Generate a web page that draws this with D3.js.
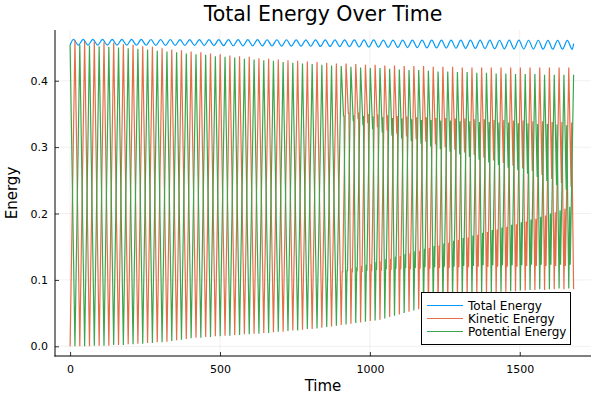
<!DOCTYPE html>
<html>
<head>
<meta charset="utf-8">
<script src="https://cdn.jsdelivr.net/npm/d3@7"></script>
<style>
  html, body { margin: 0; padding: 0; background: #fff; }
  svg { display: block; font-family: "DejaVu Sans", sans-serif; }
</style>
</head>
<body>
<svg id="chart" width="600" height="400"></svg>
<script>
// ---------------- data ----------------
const title = "Total Energy Over Time";
const xLabel = "Time";
const yLabel = "Energy";
const seriesNames = ["Total Energy", "Kinetic Energy", "Potential Energy"];
const seriesColors = ["#009AFA", "#E36F47", "#3EA44E"];
const xTicks = [0, 500, 1000, 1500];
const yTicks = [0.0, 0.1, 0.2, 0.3, 0.4];

// length of one exchange cycle (time units), read from peak spacing
const period = 32.3;
const nCycles = 52;
// first cycle that shows the secondary wiggle
const wiggleStart = 28;

// kinetic energy: peaks (mid-cycle) and troughs (cycle boundaries)
const keMax = [0.461,0.460,0.459,0.458,0.457,0.455,0.454,0.452,0.451,0.449,
  0.447,0.446,0.444,0.443,0.441,0.440,0.438,0.437,0.436,0.434,
  0.433,0.432,0.431,0.430,0.429,0.428,0.427,0.426,0.426,0.425,
  0.424,0.424,0.423,0.423,0.422,0.422,0.422,0.421,0.421,0.421,
  0.420,0.420,0.420,0.420,0.420,0.420,0.420,0.420,0.420,0.420,
  0.420,0.420];
const keMin = [0.000,0.000,0.000,0.001,0.001,0.002,0.003,0.004,0.005,0.006,
  0.007,0.009,0.011,0.013,0.014,0.015,0.016,0.017,0.018,0.019,
  0.020,0.021,0.022,0.024,0.025,0.026,0.028,0.030,0.032,0.034,
  0.036,0.038,0.040,0.044,0.048,0.052,0.056,0.060,0.064,0.068,
  0.072,0.075,0.078,0.080,0.081,0.082,0.083,0.084,0.085,0.085,
  0.086,0.086,0.086];
// kinetic energy secondary wiggle (cycles 28..51)
const keUpLo = [0.350,0.342,0.336,0.330,0.325,0.320,0.316,0.312,0.308,0.304,0.300,0.296,0.292,0.288,0.284,0.280,0.276,0.272,0.268,0.264,0.258,0.252,0.246,0.240];
const keUpHi = [0.352,0.352,0.350,0.349,0.348,0.347,0.346,0.345,0.345,0.344,0.344,0.343,0.343,0.342,0.342,0.341,0.341,0.340,0.340,0.339,0.339,0.338,0.338,0.337];
const keLoHi = [0.113,0.117,0.121,0.124,0.128,0.132,0.136,0.140,0.144,0.148,0.152,0.156,0.160,0.164,0.168,0.172,0.176,0.180,0.184,0.188,0.192,0.197,0.202,0.207];
const keLoLo = [0.111,0.111,0.112,0.113,0.114,0.115,0.116,0.116,0.117,0.117,0.118,0.118,0.119,0.119,0.120,0.120,0.120,0.120,0.120,0.121,0.121,0.121,0.121,0.121];

// potential energy: peaks (cycle boundaries) and troughs (mid-cycle)
const peMax = [0.454,0.454,0.453,0.452,0.451,0.450,0.449,0.448,0.447,0.445,
  0.444,0.443,0.441,0.440,0.439,0.437,0.436,0.435,0.433,0.432,
  0.431,0.430,0.428,0.427,0.426,0.425,0.424,0.423,0.422,0.421,
  0.420,0.419,0.419,0.418,0.417,0.416,0.416,0.415,0.414,0.414,
  0.413,0.413,0.412,0.412,0.411,0.411,0.410,0.410,0.410,0.409,
  0.409,0.409,0.409];
const peMin = [0.000,0.000,0.001,0.001,0.002,0.002,0.003,0.004,0.005,0.006,
  0.008,0.010,0.012,0.013,0.014,0.015,0.016,0.017,0.018,0.019,
  0.020,0.022,0.023,0.024,0.026,0.027,0.029,0.031,0.033,0.035,
  0.037,0.039,0.042,0.046,0.050,0.054,0.058,0.062,0.066,0.070,
  0.073,0.076,0.078,0.080,0.082,0.083,0.084,0.085,0.086,0.086,
  0.087,0.087];
const peUpLo = [0.346,0.339,0.333,0.327,0.322,0.317,0.313,0.309,0.305,0.301,0.297,0.293,0.289,0.285,0.281,0.277,0.273,0.269,0.265,0.260,0.255,0.249,0.243,0.236];
const peUpHi = [0.348,0.348,0.347,0.346,0.345,0.344,0.343,0.342,0.341,0.341,0.340,0.340,0.339,0.339,0.338,0.338,0.337,0.337,0.336,0.336,0.335,0.335,0.334,0.333];
const peLoHi = [0.115,0.119,0.123,0.127,0.131,0.135,0.139,0.143,0.147,0.151,0.155,0.159,0.163,0.167,0.171,0.175,0.179,0.183,0.187,0.191,0.195,0.200,0.205,0.210];
const peLoLo = [0.113,0.113,0.114,0.115,0.116,0.117,0.118,0.118,0.119,0.119,0.120,0.120,0.121,0.121,0.122,0.122,0.122,0.122,0.122,0.123,0.123,0.123,0.123,0.123];

// total energy: small ripple, one top and one dip per cycle
const totalStart = 0.4537;
const totalTop = [0.4624,0.4624,0.4623,0.4623,0.4623,0.4622,0.4622,0.4622,0.4621,0.4621,
  0.4621,0.4620,0.4620,0.4620,0.4619,0.4619,0.4619,0.4618,0.4618,0.4618,
  0.4617,0.4617,0.4617,0.4616,0.4616,0.4616,0.4615,0.4615,0.4615,0.4614,
  0.4614,0.4614,0.4613,0.4613,0.4613,0.4613,0.4612,0.4612,0.4612,0.4612,
  0.4611,0.4611,0.4611,0.4611,0.4610,0.4610,0.4610,0.4610,0.4610,0.4609,
  0.4609,0.4609];
const totalDip = [0.4537,0.4537,0.4536,0.4536,0.4535,0.4535,0.4534,0.4534,0.4533,0.4533,
  0.4532,0.4531,0.4531,0.4530,0.4529,0.4528,0.4527,0.4526,0.4525,0.4524,
  0.4523,0.4522,0.4521,0.4520,0.4519,0.4517,0.4516,0.4514,0.4512,0.4510,
  0.4508,0.4506,0.4504,0.4502,0.4500,0.4498,0.4496,0.4494,0.4492,0.4490,
  0.4488,0.4486,0.4484,0.4482,0.4480,0.4479,0.4478,0.4477,0.4476,0.4475,
  0.4474,0.4473];
const totalEnd = 0.4560;

// ---------------- build series points ----------------
const kePts = [], pePts = [], totPts = [];
for (let k = 0; k < nCycles; k++) {
  const t0 = k * period;
  const w = k - wiggleStart;
  // kinetic
  kePts.push([t0, keMin[k]]);
  if (w >= 0) {
    kePts.push([t0 + 0.10 * period, keLoHi[w]]);
    kePts.push([t0 + 0.15 * period, keLoLo[w]]);
  }
  kePts.push([t0 + 0.5 * period, keMax[k]]);
  if (w >= 0) {
    kePts.push([t0 + 0.74 * period, keUpLo[w]]);
    kePts.push([t0 + 0.79 * period, keUpHi[w]]);
  }
  // potential
  pePts.push([t0, peMax[k]]);
  if (w >= 0) {
    pePts.push([t0 + 0.24 * period, peUpLo[w]]);
    pePts.push([t0 + 0.29 * period, peUpHi[w]]);
  }
  pePts.push([t0 + 0.5 * period, peMin[k]]);
  if (w >= 0) {
    pePts.push([t0 + 0.60 * period, peLoHi[w]]);
    pePts.push([t0 + 0.65 * period, peLoLo[w]]);
  }
  // total
  if (k === 0) totPts.push([0, totalStart]);
  totPts.push([t0 + 0.35 * period, totalTop[k]]);
  totPts.push([t0 + 0.85 * period, totalDip[k]]);
}
kePts.push([nCycles * period, keMin[nCycles]]);
pePts.push([nCycles * period, peMax[nCycles]]);
totPts.push([nCycles * period, totalEnd]);

// ---------------- layout ----------------
const svg = d3.select("#chart");
const plot = { left: 55, right: 591, top: 30, bottom: 356 };
const x = d3.scaleLinear().domain([-50.4, 1737.6]).range([plot.left, plot.right]);
const y = d3.scaleLinear().domain([-0.0146, 0.4764]).range([plot.bottom, plot.top]);

// grid
const grid = svg.append("g");
grid.selectAll("line.gx").data(xTicks).enter().append("line")
  .attr("x1", d => x(d)).attr("x2", d => x(d))
  .attr("y1", plot.top).attr("y2", plot.bottom)
  .attr("stroke", "#000").attr("stroke-opacity", 0.1).attr("stroke-width", 0.6);
grid.selectAll("line.gy").data(yTicks).enter().append("line")
  .attr("y1", d => y(d)).attr("y2", d => y(d))
  .attr("x1", plot.left).attr("x2", plot.right)
  .attr("stroke", "#000").attr("stroke-opacity", 0.1).attr("stroke-width", 0.6);

// series
svg.append("clipPath").attr("id", "clip").append("rect")
  .attr("x", plot.left).attr("y", plot.top)
  .attr("width", plot.right - plot.left).attr("height", plot.bottom - plot.top);
const lines = svg.append("g").attr("clip-path", "url(#clip)");
const lineLin = d3.line().x(d => x(d[0])).y(d => y(d[1]));
const lineSmooth = d3.line().x(d => x(d[0])).y(d => y(d[1])).curve(d3.curveMonotoneX);

lines.append("path").datum(totPts).attr("d", lineSmooth)
  .attr("fill", "none").attr("stroke", seriesColors[0]).attr("stroke-width", 1.2);
lines.append("path").datum(kePts).attr("d", lineLin)
  .attr("fill", "none").attr("stroke", seriesColors[1]).attr("stroke-width", 1.2)
  .attr("stroke-linejoin", "miter");
lines.append("path").datum(pePts).attr("d", lineLin)
  .attr("fill", "none").attr("stroke", seriesColors[2]).attr("stroke-width", 1.2)
  .attr("stroke-linejoin", "miter");

// axes
const xAxis = d3.axisBottom(x).tickValues(xTicks).tickSize(-4).tickPadding(9)
  .tickFormat(d3.format("d"));
const yAxis = d3.axisLeft(y).tickValues(yTicks).tickSize(-4).tickPadding(7)
  .tickFormat(d3.format(".1f"));
const gx = svg.append("g").attr("transform", `translate(0,${plot.bottom})`).call(xAxis);
const gy = svg.append("g").attr("transform", `translate(${plot.left},0)`).call(yAxis);
[gx, gy].forEach(g => {
  g.select(".domain").remove();
  g.selectAll(".tick line").attr("stroke", "#000").attr("stroke-width", 0.8);
  g.selectAll(".tick text").attr("fill", "#000").style("font-size", "11px")
    .style("font-family", "DejaVu Sans, sans-serif");
});
svg.append("line").attr("x1", plot.left).attr("x2", plot.left)
  .attr("y1", plot.top).attr("y2", plot.bottom + 0.5)
  .attr("stroke", "#000").attr("stroke-width", 1);
svg.append("line").attr("x1", plot.left - 0.5).attr("x2", plot.right)
  .attr("y1", plot.bottom).attr("y2", plot.bottom)
  .attr("stroke", "#000").attr("stroke-width", 1);

// titles
svg.append("text").attr("x", (plot.left + plot.right) / 2).attr("y", 21)
  .attr("text-anchor", "middle").style("font-size", "20.5px").attr("fill", "#000")
  .text(title);
svg.append("text").attr("x", (plot.left + plot.right) / 2).attr("y", 391)
  .attr("text-anchor", "middle").style("font-size", "15px").attr("fill", "#000")
  .text(xLabel);
svg.append("text").attr("transform", `translate(17,${(plot.top + plot.bottom) / 2}) rotate(-90)`)
  .attr("text-anchor", "middle").style("font-size", "15px").attr("fill", "#000")
  .text(yLabel);

// legend
const leg = svg.append("g");
leg.append("rect").attr("x", 421.5).attr("y", 292.5).attr("width", 149).attr("height", 52)
  .attr("fill", "#fff").attr("stroke", "#000").attr("stroke-width", 1);
seriesNames.forEach((name, i) => {
  const yy = 305.5 + i * 13;
  leg.append("line").attr("x1", 427).attr("x2", 463).attr("y1", yy).attr("y2", yy)
    .attr("stroke", seriesColors[i]).attr("stroke-width", 1.2);
  leg.append("text").attr("x", 468).attr("y", yy).attr("dy", "0.35em")
    .style("font-size", "12px").attr("fill", "#000").text(name);
});
</script>
</body>
</html>
